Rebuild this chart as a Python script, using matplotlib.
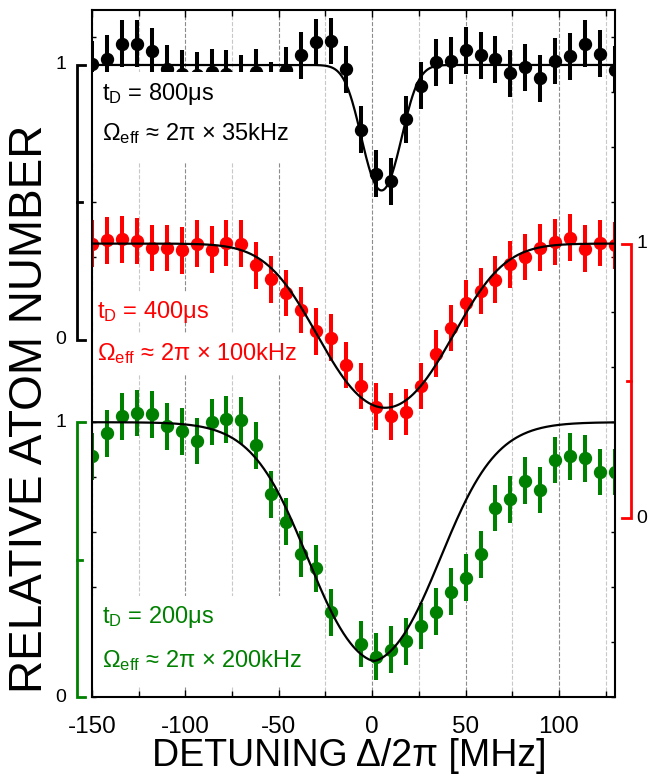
import numpy as np
import matplotlib
matplotlib.use("Agg")
import matplotlib.pyplot as plt
from matplotlib.patches import Rectangle

plt.rcParams['font.family'] = ['Liberation Sans', 'DejaVu Sans']
plt.rcParams['mathtext.fontset'] = 'custom'
plt.rcParams['mathtext.rm'] = 'Liberation Sans'
plt.rcParams['mathtext.it'] = 'Liberation Sans:italic'
plt.rcParams['axes.unicode_minus'] = False

#Data (relative atom number, each curve normalised to its own 0..1 scale)
detuning = [-150, -142, -134, -126, -118, -110, -102, -94, -86, -78, -70, -62,
            -54, -46, -38, -30, -22, -14, -6, 2, 10, 18, 26, 34,
            42, 50, 58, 66, 74, 82, 90, 98, 106, 114, 122, 130]

n800 = [1.004, 1.023, 1.077, 1.077, 1.050, 0.986, 0.968, 0.962, 0.974, 0.968, 0.950, 0.974,
        0.925, 0.980, 1.035, 1.083, 1.087, 0.984, 0.764, 0.604, 0.576, 0.802, 0.925, 1.010,
        1.016, 1.053, 1.035, 1.020, 0.970, 0.992, 0.952, 1.014, 1.032, 1.077, 1.041, 0.983]

n400 = [1.000, 1.012, 1.015, 1.009, 0.984, 0.984, 0.975, 1.000, 0.978, 1.002, 1.000, 0.921,
        0.870, 0.820, 0.757, 0.681, 0.657, 0.558, 0.482, 0.406, 0.372, 0.387, 0.482, 0.600,
        0.693, 0.782, 0.827, 0.869, 0.925, 0.951, 0.985, 1.006, 1.022, 0.982, 1.002, 0.994]

n200 = [0.876, 0.959, 1.022, 1.034, 1.029, 0.985, 0.967, 0.932, 1.001, 1.010, 1.007, 0.916,
        0.738, 0.638, 0.520, 0.468, 0.308, np.nan, 0.193, 0.147, 0.172, 0.203, 0.258, 0.310,
        0.383, 0.434, 0.519, 0.688, 0.720, 0.787, 0.753, 0.862, 0.876, 0.868, 0.819, 0.819]

err = 0.085

#fit parameters: centre [MHz], loss depth, width [MHz], shape exponent
fit800 = [5.0, 0.61, 13.0, 2.0]
fit400 = [7.0, 0.91, 40.5, 2.0]
fit200 = [1.0, 2.03, 33.6, 1.55]

labels = ["t$_\\mathrm{D}$ = 800\u03bcs", "t$_\\mathrm{D}$ = 400\u03bcs", "t$_\\mathrm{D}$ = 200\u03bcs"]
rabi = ["\u03a9$_\\mathrm{eff}$ \u2248 2\u03c0 \u00d7 35kHz",
        "\u03a9$_\\mathrm{eff}$ \u2248 2\u03c0 \u00d7 100kHz",
        "\u03a9$_\\mathrm{eff}$ \u2248 2\u03c0 \u00d7 200kHz"]

#Layout / style
offsets = [1.3, 0.65, 0.0]
colors = ["black", "#ff0000", "#008000"]


def model(x, p):
    x0, depth, w, pw = p
    return np.exp(-depth * np.exp(-(np.abs(x - x0) / w) ** pw))


fig = plt.figure(figsize=(6.57, 7.79), dpi=100)
ax = fig.add_axes([0.14003, 0.10526, 0.79604, 0.88190])

xs = np.linspace(-150, 130, 600)
series = [n800, n400, n200]
fits = [fit800, fit400, fit200]
for vals, p, off, c in zip(series, fits, offsets, colors):
    y = np.array(vals) + off
    ax.errorbar(detuning, y, yerr=err, fmt='o', color=c, ms=8.6,
                elinewidth=2.9, capsize=0, zorder=2)
    ax.plot(xs, model(xs, p) + off, color='black', lw=1.6, zorder=2.5)

#white boxes behind the annotations (they hide grid and points)
boxes = [(0.0, 0.777, 0.39, 0.133), (0.0, 0.546, 0.249, 0.044),
         (0.0, 0.469, 0.417, 0.061), (0.0, 0.0146, 0.422, 0.133)]
for bx in boxes:
    ax.add_patch(Rectangle(bx[:2], bx[2], bx[3], transform=ax.transAxes,
                           facecolor='white', edgecolor='none', zorder=3))

txt = [(0.0185, 0.869, 0.8108), (0.009, 0.5517, 0.4905), (0.0185, 0.1077, 0.0437)]
for (tx, ty1, ty2), l1, l2, c in zip(txt, labels, rabi, colors):
    ax.text(tx, ty1, l1, transform=ax.transAxes, color=c, fontsize=17,
            va='baseline', ha='left', zorder=4)
    ax.text(tx, ty2, l2, transform=ax.transAxes, color=c, fontsize=17,
            va='baseline', ha='left', zorder=4)

#scale brackets
tr = ax.get_yaxis_transform()
brk = [(-0.0287, -0.0134, -0.0191, -0.0602), (1.030, 1.0128, 1.0224, 1.051),
       (-0.0287, -0.0134, -0.0191, -0.0602)]
for (xv, xe, xm, xl), off, c in zip(brk, offsets, colors):
    ax.plot([xe, xv, xv, xe], [off + 1, off + 1, off, off], color=c, lw=2.0,
            transform=tr, clip_on=False, solid_joinstyle='miter')
    ax.plot([xv, xm], [off + 0.5, off + 0.5], color=c, lw=2.0,
            transform=tr, clip_on=False)
    ax.text(xl, off + 1, "1", transform=tr, ha='center', va='center', fontsize=14)
    ax.text(xl, off, "0", transform=tr, ha='center', va='center', fontsize=14)

ax.set_xlim(-150, 130)
ax.set_ylim(0, 2.5)
ax.set_xticks([-150, -100, -50, 0, 50, 100])
ax.set_xticks([-125, -75, -25, 25, 75, 125], minor=True)
ax.set_yticks(np.arange(0, 2.41, 0.2))
ax.set_yticklabels([])
ax.tick_params(axis='x', which='major', direction='in', top=True, length=5,
               width=1, labelsize=17.5, pad=14)
ax.tick_params(axis='x', which='minor', direction='in', top=True, length=4, width=1)
ax.tick_params(axis='y', direction='in', right=True, length=3, width=1)
ax.set_axisbelow(True)
ax.grid(which='major', axis='x', ls='--', color='#8c8c8c', lw=0.8)
ax.grid(which='minor', axis='x', ls='--', color='#c8c8c8', lw=0.8)
for s in ax.spines.values():
    s.set_linewidth(1.5)
    s.set_zorder(6)

ax.set_xlabel("DETUNING \u0394/2\u03c0 [MHz]", fontsize=27)
ax.xaxis.set_label_coords(0.491, -0.1004)
ax.xaxis.label.set_va('baseline')
ax.set_ylabel("RELATIVE ATOM NUMBER", fontsize=33)
ax.yaxis.set_label_coords(-0.1185, 0.419)
ax.yaxis.label.set_va('center')

fig.savefig("out.png", dpi=100)
